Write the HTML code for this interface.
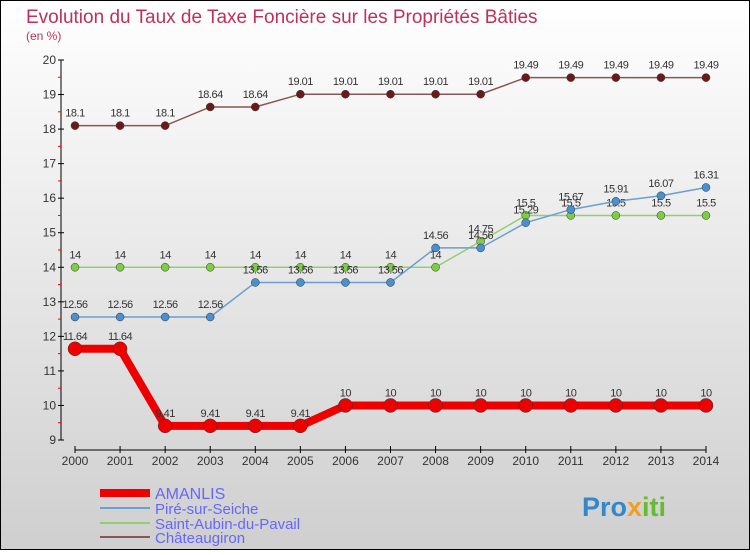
<!DOCTYPE html>
<html><head><meta charset="utf-8"><style>
body{margin:0}
svg text{font-family:"Liberation Sans",sans-serif}
</style></head><body>
<svg id="c" width="750" height="550" xmlns="http://www.w3.org/2000/svg">
<defs><linearGradient id="bg" x1="0" y1="0" x2="0" y2="1"><stop offset="0" stop-color="#ffffff"/><stop offset="1" stop-color="#cfcfcf"/></linearGradient></defs>
<rect x="0.5" y="0.5" width="749" height="549" fill="url(#bg)" stroke="#000"/>
<text x="26" y="23" font-size="19" fill="#c0305a">Evolution du Taux de Taxe Foncière sur les Propriétés Bâties</text>
<text x="26" y="40" font-size="12" fill="#c0305a">(en %)</text>
<g id="axes"></g><g id="series"></g>
<g>
<line x1="100" y1="493" x2="150" y2="493" stroke="#ee0000" stroke-width="8"/>
<text x="155" y="499" font-size="16" fill="#6666ff">AMANLIS</text>
<line x1="100" y1="508" x2="150" y2="508" stroke="#6a9fcf" stroke-width="2"/>
<text x="155" y="514" font-size="15" fill="#6666ff">Piré-sur-Seiche</text>
<line x1="100" y1="523" x2="150" y2="523" stroke="#90d070" stroke-width="2"/>
<text x="155" y="529" font-size="15" fill="#6666ff">Saint-Aubin-du-Pavail</text>
<line x1="100" y1="537" x2="150" y2="537" stroke="#8a5555" stroke-width="2"/>
<text x="155" y="543" font-size="15" fill="#6666ff">Châteaugiron</text>
</g>
<text x="582" y="516" font-size="27" font-weight="bold" fill="#3388cc">Pro<tspan fill="#f0a020">x</tspan><tspan fill="#66bb33">iti</tspan></text>
</svg>
<script>
const years=[2000,2001,2002,2003,2004,2005,2006,2007,2008,2009,2010,2011,2012,2013,2014];
const yTicks=[9,10,11,12,13,14,15,16,17,18,19,20];
const amanlis=[11.64,11.64,9.41,9.41,9.41,9.41,10,10,10,10,10,10,10,10,10];
const pire=[12.56,12.56,12.56,12.56,13.56,13.56,13.56,13.56,14.56,14.56,15.29,15.67,15.91,16.07,16.31];
const saint=[14,14,14,14,14,14,14,14,14,14.75,15.5,15.5,15.5,15.5,15.5];
const chat=[18.1,18.1,18.1,18.64,18.64,19.01,19.01,19.01,19.01,19.01,19.49,19.49,19.49,19.49,19.49];
const NS="http://www.w3.org/2000/svg";
const X=i=>75+i*(706-75)/(years.length-1);
const Y=v=>440-(v-9)*(380/11);
function mk(t,a,p){const e=document.createElementNS(NS,t);for(const k in a)e.setAttribute(k,a[k]);p.appendChild(e);return e;}
const ax=document.getElementById('axes');
const yl=mk('line',{x1:61,y1:60,x2:61,y2:440,stroke:'#000'},ax);


yTicks.forEach(v=>{
 mk('line',{x1:58,y1:Y(v),x2:64,y2:Y(v),stroke:'#000'},ax);
 if(v<20)mk('line',{x1:58,y1:Y(v+0.5),x2:61,y2:Y(v+0.5),stroke:'#f00'},ax);
 const t=mk('text',{x:56,y:Y(v)+4,'font-size':12,'text-anchor':'end',fill:'#333'},ax);t.textContent=v;
 
 
});
const xl=mk('line',{x1:75,y1:450,x2:706,y2:450,stroke:'#000'},ax);


years.forEach((y,i)=>{
 mk('line',{x1:X(i),y1:446,x2:X(i),y2:453,stroke:'#000'},ax);
 const t=mk('text',{x:X(i),y:465,'font-size':12,'text-anchor':'middle',fill:'#333'},ax);t.textContent=y;
 
 
});
const sg=document.getElementById('series');
function draw(name,data,color,dot,w,r){
 const g=mk('g',{},sg);
 
 
 mk('polyline',{points:data.map((v,i)=>X(i)+','+Y(v)).join(' '),fill:'none',stroke:color,'stroke-width':w},g);
 data.forEach((v,i)=>{
  const c=mk('circle',{cx:X(i),cy:Y(v),r:r,fill:dot,stroke:'#333','stroke-width':0.5},g);
  
  
  const t=mk('text',{x:X(i),y:Y(v)-9,'font-size':11,'text-anchor':'middle',fill:'#333','letter-spacing':'-0.5'},g);t.textContent=v;
 });
}
draw('chateaugiron-series',chat,'#8a5555','#6a1a1a',1.5,4);
draw('saint-aubin-series',saint,'#90d070','#7ccc44',1.5,4);
draw('pire-series',pire,'#6a9fcf','#4a8fcf',1.5,4);
draw('amanlis-series',amanlis,'#ee0000','#ee0000',8,7);
</script>
</body></html>
